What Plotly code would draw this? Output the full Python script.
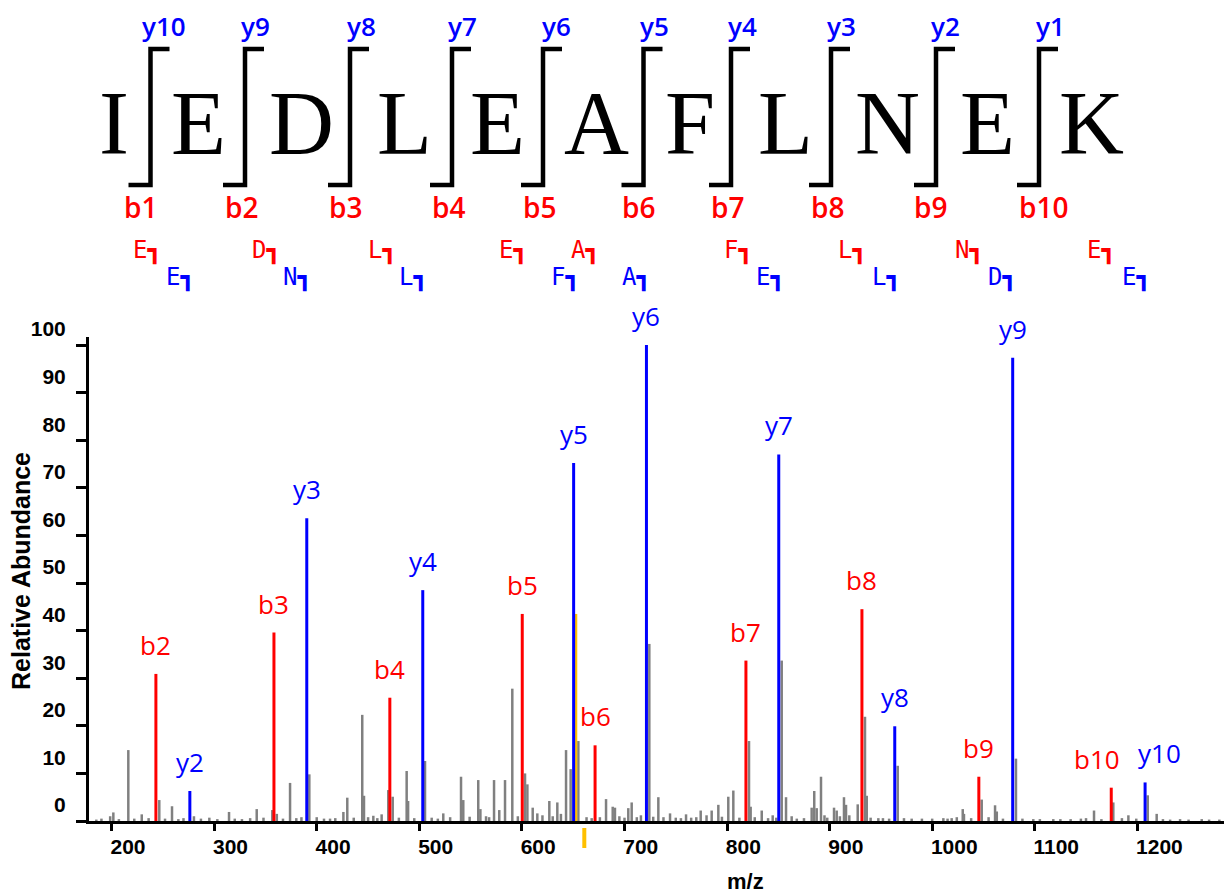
import plotly.graph_objects as go

# ---------------- data ----------------
b_labels = ["b2", "b3", "b4", "b5", "b6", "b7", "b8", "b9", "b10"]
b_mz = [243.1, 358.2, 471.2, 600.3, 671.3, 818.4, 931.5, 1045.5, 1174.6]
b_int = [30.9, 39.6, 25.9, 43.5, 15.9, 33.7, 44.5, 9.3, 7.0]

y_labels = ["y2", "y3", "y4", "y5", "y6", "y7", "y8", "y9", "y10"]
y_mz = [276.2, 390.2, 503.3, 650.4, 721.4, 850.4, 963.5, 1078.5, 1207.6]
y_int = [6.3, 63.6, 48.5, 75.2, 100.0, 77.0, 19.9, 97.3, 8.1]

nl_mz = [652.5]          # precursor neutral-loss peak (yellow)
nl_int = [43.5]
precursor_mz = 660.8     # precursor marker below the axis

gray_mz = [185, 190, 198.5, 201.6, 207, 216.2, 222, 229.3, 236, 246.4, 252, 258.8,
           265, 270, 280.2, 287, 295.2, 303, 314.4, 320, 327, 335, 341.4, 348,
           356.6, 361.0, 367, 373.9, 380, 385, 392.7, 399.9, 407, 412.9, 418,
           425.9, 429.7, 436, 444.3, 446.0, 450, 455.1, 459, 463.2, 469.7, 474.0,
           480, 487.6, 489.0, 495, 505.5, 512, 518, 523.3, 530, 540.6, 542.8, 549,
           557.4, 559.5, 565, 568, 572.8, 577.9, 583.5, 590.6, 596, 603.0, 605.3,
           610.5, 615.0, 620, 626.7, 630, 634.5, 638, 643.0, 647.5, 655.0, 663,
           668, 676, 682.0, 688.5, 690.7, 695, 700, 703.7, 707.0, 712, 716, 724.2,
           728, 733.0, 738, 744.4, 750, 755, 760.0, 765, 770, 774.3, 780.0, 785.0,
           791.5, 795, 801.2, 806.1, 812, 821.4, 823.0, 827, 833.8, 840, 844.5,
           848, 853.3, 857.5, 863.0, 868, 875.0, 882.5, 885.0, 887.4, 891.6, 895,
           897.7, 904.3, 906.9, 910, 914.0, 916.0, 919.2, 927.4, 934.5, 936.2,
           940, 947.5, 952, 958, 966.4, 972.5, 980, 990, 1000, 1010.9, 1015,
           1019.0, 1024, 1029.8, 1031.0, 1038, 1048.3, 1055, 1061.3, 1063.0, 1069,
           1081.7, 1088, 1098.6, 1105, 1118.1, 1125, 1135, 1145, 1150, 1157.8,
           1165, 1176.6, 1185, 1191.3, 1199, 1210.2, 1218.9, 1225, 1232, 1241.7,
           1250, 1262.8, 1270, 1280]
gray_int = [0.3, 0.5, 1.0, 1.8, 0.4, 14.9, 0.5, 1.4, 0.6, 4.4, 0.5, 3.1,
            0.4, 0.6, 1.0, 0.5, 0.7, 0.4, 1.9, 0.5, 0.4, 0.6, 2.5, 0.7,
            2.3, 1.5, 0.5, 8.0, 0.6, 0.8, 9.8, 0.8, 0.5, 0.5, 0.6,
            1.9, 4.9, 0.7, 22.3, 5.3, 0.8, 1.1, 0.6, 1.4, 6.5, 5.1,
            0.7, 10.5, 4.2, 0.6, 12.6, 0.7, 0.5, 1.6, 0.8, 9.3, 4.4, 0.9,
            8.6, 2.5, 1.0, 0.8, 8.6, 2.3, 8.6, 27.8, 1.0, 10.0, 7.7,
            2.8, 1.6, 1.2, 4.2, 1.0, 3.9, 1.5, 14.9, 10.9, 16.8, 0.8,
            0.6, 0.8, 4.6, 3.0, 2.8, 1.0, 0.7, 2.7, 3.9, 0.8, 1.2, 37.2,
            0.9, 5.0, 0.8, 1.6, 0.7, 0.6, 1.4, 0.7, 0.8, 2.2, 1.2, 2.2,
            3.4, 0.9, 5.1, 6.4, 0.7, 16.8, 3.0, 0.8, 2.2, 0.6, 1.2,
            0.7, 33.7, 5.0, 1.0, 0.5, 0.6, 2.8, 6.3, 2.7, 9.3, 1.2,
            0.7, 2.8, 2.2, 1.0, 5.0, 3.4, 1.2, 3.5, 21.9, 5.3,
            0.7, 0.6, 0.6, 0.5, 11.6, 0.6, 0.5, 0.5, 0.5, 0.6, 0.5,
            0.6, 0.8, 2.5, 1.5, 0.6, 4.5, 0.8, 3.3, 2.0, 0.5,
            13.1, 0.5, 0.4, 0.4, 0.4, 0.4, 0.4, 0.5, 0.6, 2.2,
            0.4, 3.9, 0.6, 1.2, 0.5, 5.4, 1.5, 0.4, 0.3, 0.4,
            0.3, 0.4, 0.3, 0.3]

x_ticks = [200, 300, 400, 500, 600, 700, 800, 900, 1000, 1100, 1200]
y_ticks = [0, 10, 20, 30, 40, 50, 60, 70, 80, 90, 100]

# peptide sequence and fragment-map text
sequence = ["I", "E", "D", "L", "E", "A", "F", "L", "N", "E", "K"]
top_y_labels = ["y10", "y9", "y8", "y7", "y6", "y5", "y4", "y3", "y2", "y1"]
top_b_labels = ["b1", "b2", "b3", "b4", "b5", "b6", "b7", "b8", "b9", "b10"]
b_residues = ["E", "D", "L", "E", "A", "F", "L", "N", "E"]
y_residues = ["E", "N", "L", "F", "A", "E", "L", "D", "E"]

# ---------------- layout geometry (pixels) ----------------
W, H = 1224, 894
ML, MR, MT, MB = 89, 0, 337, 73
PW, PH = W - ML - MR, H - MT - MB


def px(x):
    return (x - ML) / PW


def py(y):
    return (H - MB - y) / PH


letter_x = [114, 198, 301, 404, 497, 596, 690, 785.5, 887, 987, 1091]
bracket_x = [150.5, 245, 350, 452, 543, 643.5, 731, 831, 936, 1039]
ylab_x = [163.5, 255, 361, 463, 556, 654, 742, 841, 945, 1050]
blab_x = [140, 241, 345, 448, 539, 638, 727, 827, 930, 1043]
bres_x = [147, 266, 382, 513, 585, 738, 852, 969, 1101]
yres_x = [180, 297, 413, 565, 636, 770, 886, 1002, 1136]
# horizontal nudges for crowded peak labels (b10 / y10)
b_label_shift = [0, 0, 0, 0, 0, 0, 0, 0, -14]
y_label_shift = [0, 0, 0, 0, 0, 0, 0, 0, 14]

RED, BLUE, GRAY, GOLD = "#FF0000", "#0000FF", "#808080", "#FFC000"


def sticks(mz, inten):
    xs, ys = [], []
    for m, v in zip(mz, inten):
        xs += [m, m, None]
        ys += [0, v, None]
    return xs, ys


fig = go.Figure()
gx, gy = sticks(gray_mz, gray_int)
fig.add_trace(go.Scatter(x=gx, y=gy, mode="lines", line=dict(color=GRAY, width=2.5),
                         hoverinfo="skip"))
nx, ny = sticks(nl_mz, nl_int)
fig.add_trace(go.Scatter(x=nx, y=ny, mode="lines", line=dict(color=GOLD, width=3),
                         hoverinfo="skip"))
bx, byy = sticks(b_mz, b_int)
fig.add_trace(go.Scatter(x=bx, y=byy, mode="lines", line=dict(color=RED, width=3),
                         hoverinfo="skip"))
yx, yy = sticks(y_mz, y_int)
fig.add_trace(go.Scatter(x=yx, y=yy, mode="lines", line=dict(color=BLUE, width=3),
                         hoverinfo="skip"))

ann = []
LABEL_FONT = "Open Sans, Lato, sans-serif"
for lab, m, v, s in zip(b_labels, b_mz, b_int, b_label_shift):
    ann.append(dict(x=m, y=v, xref="x", yref="y", text=lab, showarrow=False,
                    yanchor="bottom", yshift=9, xshift=s,
                    font=dict(family=LABEL_FONT, size=26, color=RED)))
for lab, m, v, s in zip(y_labels, y_mz, y_int, y_label_shift):
    ann.append(dict(x=m, y=v, xref="x", yref="y", text=lab, showarrow=False,
                    yanchor="bottom", yshift=9, xshift=s,
                    font=dict(family=LABEL_FONT, size=26, color=BLUE)))

# sequence letters
for ch, x in zip(sequence, letter_x):
    ann.append(dict(x=px(x), y=py(123), xref="paper", yref="paper", text=ch,
                    showarrow=False, xanchor="center", yanchor="middle",
                    font=dict(family="Liberation Serif, Times New Roman, serif",
                              size=90, color="black")))
for lab, x in zip(top_y_labels, ylab_x):
    ann.append(dict(x=px(x), y=py(26), xref="paper", yref="paper", text=lab,
                    showarrow=False, xanchor="center", yanchor="middle",
                    font=dict(family=LABEL_FONT, size=26, color=BLUE, weight=600)))
for lab, x in zip(top_b_labels, blab_x):
    ann.append(dict(x=px(x), y=py(207), xref="paper", yref="paper", text=lab,
                    showarrow=False, xanchor="center", yanchor="middle",
                    font=dict(family=LABEL_FONT, size=28, color=RED, weight=600)))
for r, x in zip(b_residues, bres_x):
    ann.append(dict(x=px(x), y=py(250), xref="paper", yref="paper", text=r + "\u2513",
                    showarrow=False, xanchor="center", yanchor="middle",
                    font=dict(family="DejaVu Sans Mono, monospace", size=24, color=RED)))
for r, x in zip(y_residues, yres_x):
    ann.append(dict(x=px(x), y=py(277), xref="paper", yref="paper", text=r + "\u2513",
                    showarrow=False, xanchor="center", yanchor="middle",
                    font=dict(family="DejaVu Sans Mono, monospace", size=24, color=BLUE)))

# axis titles
ann.append(dict(x=px(21), y=py(571), xref="paper", yref="paper", text="Relative Abundance",
                textangle=-90, showarrow=False, xanchor="center", yanchor="middle",
                font=dict(family="Liberation Sans, Arial, sans-serif", size=25,
                          color="black", weight="bold")))
ann.append(dict(x=px(745), y=py(881), xref="paper", yref="paper", text="m/z",
                showarrow=False, xanchor="center", yanchor="middle",
                font=dict(family="Liberation Sans, Arial, sans-serif", size=22,
                          color="black", weight="bold")))

shapes = []
for x in bracket_x:
    path = "M {},{} L {},{} L {},{} L {},{}".format(
        px(x + 19), py(49), px(x), py(49), px(x), py(185), px(x - 22), py(185))
    shapes.append(dict(type="path", path=path, xref="paper", yref="paper",
                       line=dict(color="black", width=4.5)))
shapes.append(dict(type="line", xref="x", yref="paper", x0=precursor_mz, x1=precursor_mz,
                   y0=py(828), y1=py(848), line=dict(color=GOLD, width=4)))

TICKFONT = dict(family="Liberation Sans, Arial, sans-serif", size=21, color="black",
                weight="bold")
x_lo = 200 - (111.7 - ML) / 1.0256
x_hi = 200 + (W - MR - 111.7) / 1.0256
y_hi = PH / ((821 - 345) / 100)

fig.update_layout(
    width=W, height=H,
    margin=dict(l=ML, r=MR, t=MT, b=MB, pad=0),
    paper_bgcolor="white", plot_bgcolor="white",
    showlegend=False,
    annotations=ann, shapes=shapes,
    xaxis=dict(range=[x_lo, x_hi], tickvals=x_ticks, ticktext=[str(v) for v in x_ticks],
               showgrid=False, zeroline=False, showline=True, linecolor="black",
               linewidth=3, ticks="outside", ticklen=7, tickwidth=2.5, tickcolor="black",
               tickfont=TICKFONT, ticklabelposition="outside right",
               ticklabelstandoff=5, ticklabelshift=-4),
    yaxis=dict(range=[0, y_hi], tickvals=y_ticks, ticktext=[str(v) for v in y_ticks],
               showgrid=False, zeroline=False, showline=True, linecolor="black",
               linewidth=3, ticks="outside", ticklen=10, tickwidth=2.5, tickcolor="black",
               tickfont=TICKFONT, ticklabelposition="outside top",
               ticklabelstandoff=16),
)

fig.write_html("out.html")
